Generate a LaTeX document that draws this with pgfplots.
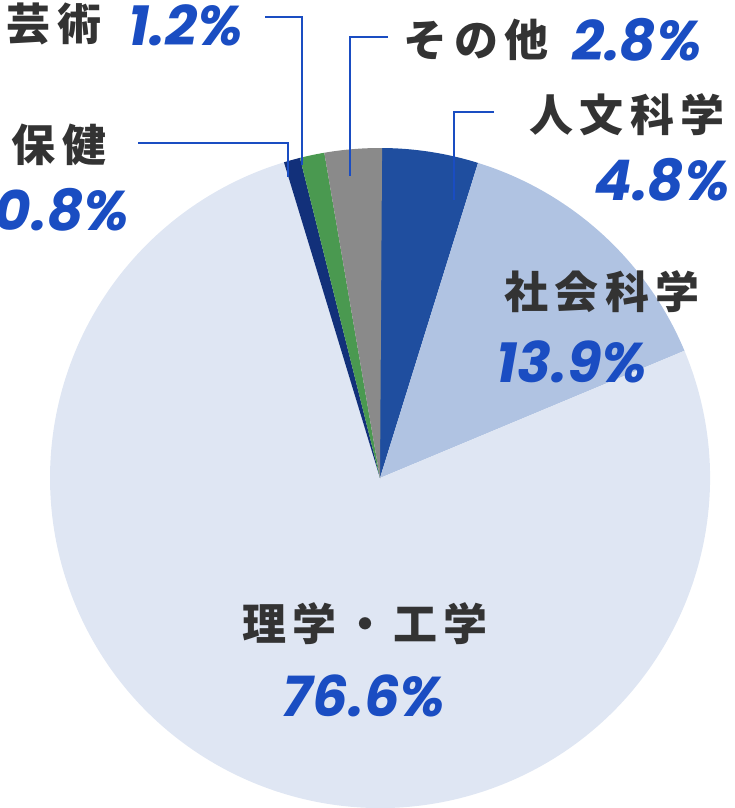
\documentclass[border=0pt]{standalone}
\usepackage{pgfplots}
\pgfplotsset{compat=1.18}
\usepackage{fontspec}
\newfontfamily\jp[LetterSpace=14]{Noto Sans CJK JP}
\newfontfamily\pct{Poppins}

\definecolor{cHum}{HTML}{1F4E9F}
\definecolor{cSoc}{HTML}{B0C3E2}
\definecolor{cSci}{HTML}{DFE6F3}
\definecolor{cHea}{HTML}{12307A}
\definecolor{cArt}{HTML}{4A9950}
\definecolor{cOth}{HTML}{8A8A8A}
\definecolor{lbl}{HTML}{333333}
\definecolor{pc}{HTML}{1A4DC2}

\begin{document}
\begin{tikzpicture}
\begin{axis}[
    name=ax,
    x=0.5pt, y=0.5pt,
    y dir=reverse,
    xmin=0, xmax=734, ymin=0, ymax=808,
    hide axis,
    clip=false,
    every node/.style={inner sep=0pt, outer sep=0pt},
]
% pie: shares in %, clockwise from 12 o'clock
\pgfplotsextra{%
  \gdef\acc{90}%
  \foreach \v/\c in {4.8/cHum, 13.9/cSoc, 76.6/cSci, 0.8/cHea, 1.2/cArt, 2.8/cOth}{%
    \pgfmathsetmacro\aend{\acc-3.6*\v}%
    \fill[\c] (axis cs:380,478) -- ++(\acc:165pt)
      arc[start angle=\acc, end angle=\aend, radius=165pt] -- cycle;
    \xdef\acc{\aend}%
  }%
}

% leader lines
\draw[pc, line width=1pt] (axis cs:494,112) -- (axis cs:454,112) -- (axis cs:454,200);
\draw[pc, line width=1pt] (axis cs:388,37) -- (axis cs:350,37) -- (axis cs:350,176);
\draw[pc, line width=1pt] (axis cs:265,17) -- (axis cs:302,17) -- (axis cs:302,165);
\draw[pc, line width=1pt] (axis cs:138,143) -- (axis cs:288,143) -- (axis cs:288,177);

% labels
\tikzset{jl/.style={text=lbl, font=\jp\bfseries\fontsize{22pt}{22pt}\selectfont},
         pl/.style={text=pc, font=\pct\bfseries\itshape\fontsize{28pt}{28pt}\selectfont}}
\node[jl] at (axis cs:54,24) {芸術};
\node[pl] at (axis cs:186,25) {1.2\%};
\node[jl] at (axis cs:476,40) {その他};
\node[pl] at (axis cs:637,40) {2.8\%};
\node[jl] at (axis cs:627,115) {人文科学};
\node[pl] at (axis cs:662,180) {4.8\%};
\node[jl] at (axis cs:59,145) {保健};
\node[pl] at (axis cs:62,210) {0.8\%};
\node[jl] at (axis cs:602,292) {社会科学};
\node[pl] at (axis cs:572,362) {13.9\%};
\node[jl] at (axis cs:365,624) {理学・工学};
\node[pl] at (axis cs:364,696) {76.6\%};
\end{axis}
\pgfresetboundingbox
\useasboundingbox (ax.south west) rectangle (ax.north east);
\end{tikzpicture}
\end{document}
